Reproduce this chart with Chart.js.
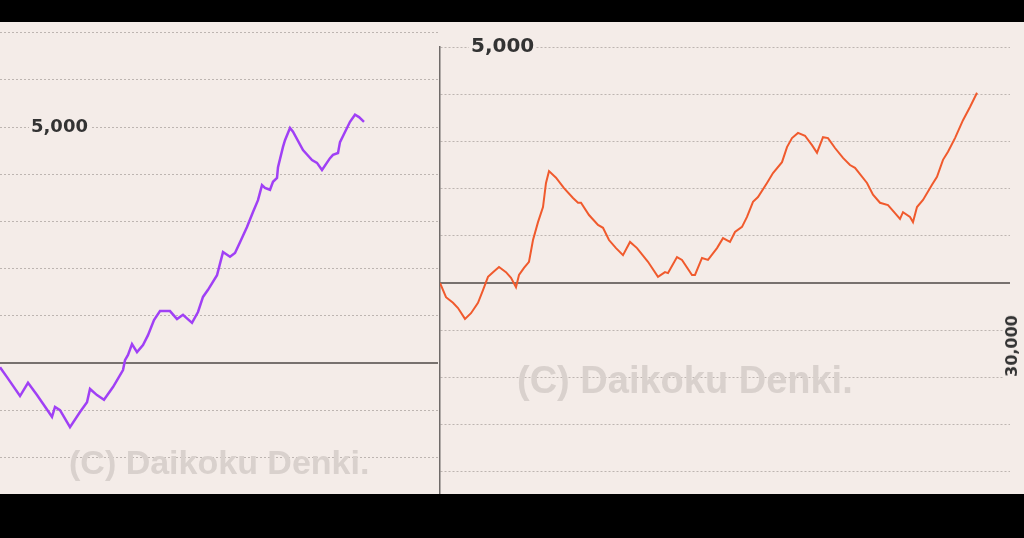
<!DOCTYPE html>
<html>
<head>
<meta charset="utf-8">
<script src="https://cdn.jsdelivr.net/npm/chart.js@4.4.1/dist/chart.umd.min.js"></script>
<style>
body { margin:0; background:#000; width:1024px; height:538px; overflow:hidden; position:relative; }
#panel { position:absolute; left:0; top:22px; width:1024px; height:472px; background:#f4ece8; }
canvas { position:absolute; top:0; }
#leftChart { left:0; }
#rightChart { left:436px; }
.label { position:absolute; font-family:"DejaVu Sans"; font-weight:bold; color:#333; background:#f4ece8; line-height:1; padding:0 2px; white-space:nowrap; }
.mark { position:absolute; font-family:"Liberation Sans"; font-weight:bold; color:#d9d1cd; white-space:nowrap; line-height:1; }
</style>
</head>
<body>
<div id="panel">
  <canvas id="leftChart" width="438" height="472"></canvas>
  <canvas id="rightChart" width="588" height="472"></canvas>
  <div class="mark" style="left:69px; top:423px; font-size:34px;">(C) Daikoku Denki.</div>
  <div class="mark" style="left:517px; top:339px; font-size:38px;">(C) Daikoku Denki.</div>
  <div class="label" style="left:29px; top:95px; font-size:18px;">5,000</div>
  <div class="label" style="left:469px; top:13px; font-size:20px;">5,000</div>
  <div class="label" style="left:1012px; top:324px; font-size:16px; transform:translate(-50%,-50%) rotate(-90deg);">30,000</div>
</div>
<script>
// left graph (purple)
var leftGames = [0,140,400,560,740,1040,1100,1200,1400,1600,
    1740,1800,1940,2080,2260,2460,2500,2560,2640,2740,
    2860,2960,3080,3200,3400,3540,3660,3840,3960,4060,
    4160,4340,4460,4600,4700,4800,4940,5060,5160,5240,
    5300,5400,5460,5540,5560,5660,5700,5800,5860,6060,
    6240,6340,6440,6600,6660,6760,6800,7000,7100,7180,7280];
var leftDiff = [-90,-300,-700,-420,-680,-1140,-930,-1000,-1360,-1040,
    -830,-550,-680,-780,-510,-150,60,170,400,230,
    380,590,910,1100,1100,930,1020,850,1080,1400,
    1550,1860,2350,2250,2330,2560,2880,3200,3450,3770,
    3710,3670,3840,3920,4150,4580,4720,4980,4900,4510,
    4300,4240,4090,4340,4410,4450,4680,5110,5260,5210,5110];
var leftTicks = [-2000,-1000,0,1000,2000,3000,4000,5000,6000,7000];

// right graph (orange)
var rightGames = [0,90,195,270,375,465,570,645,720,795,
    885,990,1065,1140,1185,1260,1335,1395,1470,1545,
    1590,1635,1740,1860,1995,2070,2115,2235,2370,2445,
    2535,2640,2745,2850,2955,3120,3270,3375,3420,3555,
    3630,3780,3825,3930,4020,4155,4245,4350,4425,4530,
    4605,4695,4770,4905,4995,5130,5205,5280,5370,5475,
    5580,5655,5745,5820,5925,6045,6150,6225,6405,6495,
    6600,6720,6825,6900,6945,7050,7095,7155,7245,7380,
    7455,7545,7620,7725,7845,7950,8055];
var rightDiff = [0,-300,-420,-530,-760,-640,-420,-150,130,230,
    340,230,110,-90,170,320,450,910,1290,1610,
    2120,2370,2230,2010,1800,1700,1700,1440,1230,1170,
    910,740,590,870,740,450,130,230,210,550,
    490,170,170,530,490,740,950,870,1080,1190,
    1400,1720,1820,2120,2330,2560,2880,3070,3180,3120,
    2920,2760,3090,3070,2860,2650,2500,2440,2120,1870,
    1700,1650,1480,1360,1500,1400,1290,1610,1760,2080,
    2250,2610,2780,3070,3450,3730,4030];
var rightTicks = [-4000,-3000,-2000,-1000,0,1000,2000,3000,4000,5000];

function toPoints(xs, ys){
    var pts = [];
    for(var i = 0; i < xs.length; i++){
        pts.push({x: xs[i], y: ys[i]});
    }
    return pts;
}

function makeChart(id, games, diff, color, width, ticks, xMax, yMin, yMax, padding, showAxis){
    new Chart(document.getElementById(id), {
        type: 'line',
        data: {
            datasets: [{
                data: toPoints(games, diff),
                borderColor: color,
                borderWidth: width,
                pointRadius: 0,
                fill: false,
                order: 0
            }, {
                // zero line
                data: [{x: 0, y: 0}, {x: xMax, y: 0}],
                borderColor: '#77716e',
                borderWidth: 2,
                pointRadius: 0,
                fill: false,
                order: 1
            }]
        },
        options: {
            responsive: false,
            animation: false,
            devicePixelRatio: 1,
            layout: { padding: padding },
            plugins: { legend: { display: false }, tooltip: { enabled: false } },
            scales: {
                x: { type: 'linear', min: 0, max: xMax, display: false },
                y: {
                    min: yMin,
                    max: yMax,
                    ticks: { display: false },
                    afterBuildTicks: function(scale){
                        scale.ticks = ticks.map(function(v){ return {value: v}; });
                    },
                    grid: { color: '#bdb5b1', lineWidth: 1, drawTicks: false },
                    border: { display: showAxis, color: '#6f6a68', width: 1.5, dash: [2, 2] }
                }
            }
        }
    });
}

makeChart('leftChart', leftGames, leftDiff, '#a040f5', 2.5, leftTicks, 8760, -2776, 7225, 0, false);
makeChart('rightChart', rightGames, rightDiff, '#f05a2d', 2, rightTicks, 8550, -4470, 5000, {left: 4, top: 25, right: 14, bottom: 0}, true);
</script>
</body>
</html>
